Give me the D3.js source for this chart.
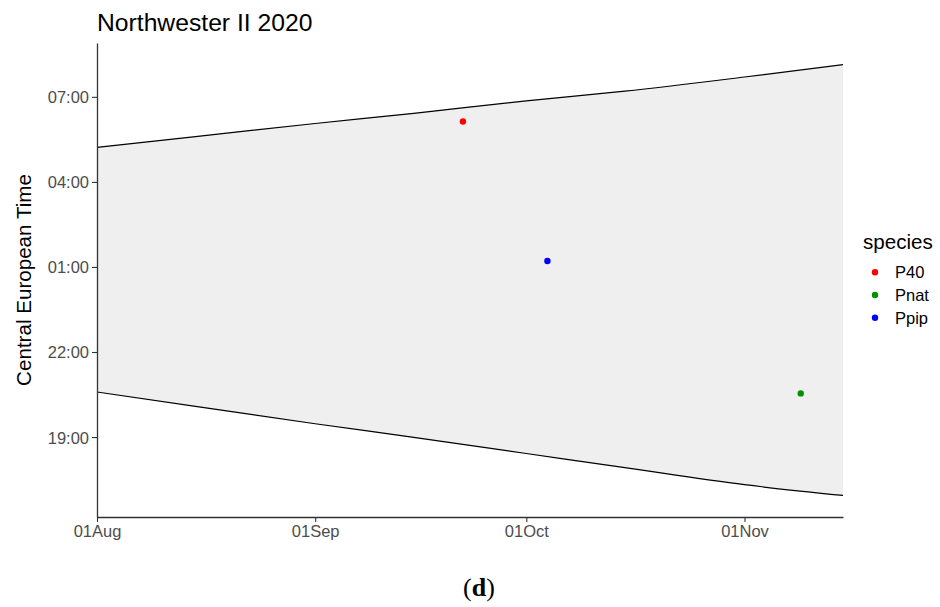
<!doctype html>
<html>
<meta charset="utf-8">
<style>
  body { margin: 0; background: #fff; }
  text { font-family: "Liberation Sans", Arial, sans-serif; }
</style>
<head>
  <script src="https://cdn.jsdelivr.net/npm/d3@7"></script>
</head>
<body>
<script>

  // dates of the night band (2020) and the band edges in hours (24 = midnight)
  var bandDates = ["2020-08-01", "2020-08-15", "2020-09-01", "2020-09-15", "2020-10-01", "2020-10-15", "2020-11-01", "2020-11-15"];
  var morningHours = [29.22, 29.60, 30.06, 30.42, 30.86, 31.20, 31.70, 32.14];
  var eveningHours = [20.59, 20.08, 19.47, 18.99, 18.42, 17.92, 17.32, 16.94];

  // observations
  var obsSpecies = ["P40", "Ppip", "Pnat"];
  var obsDates = ["2020-09-22", "2020-10-04", "2020-11-09"];
  var obsHours = [30.13, 25.21, 20.54];

  var speciesNames = ["P40", "Pnat", "Ppip"];
  var speciesColors = ["#ff0000", "#009000", "#0000ff"];

  var xTicks = ["2020-08-01", "2020-09-01", "2020-10-01", "2020-11-01"];
  var yTicks = [19, 22, 25, 28, 31];

  var width = 940,
      height = 607;

  var parse = d3.timeParse("%Y-%m-%d");

  var band = bandDates.map(function(d, i) {
    return {date: parse(d), hi: morningHours[i], lo: eveningHours[i]};
  });
  var obs = obsDates.map(function(d, i) {
    return {date: parse(d), h: obsHours[i], sp: obsSpecies[i]};
  });

  var svg = d3.select("body").append("svg")
    .attr("width", width)
    .attr("height", height);

  var pLeft = 97, pRight = 843, pTop = 43, pBottom = 517;

  var x = d3.scaleTime()
    .domain(d3.extent(band, function(d) { return d.date; }))
    .range([pLeft, pRight]);

  var yMin = d3.min(band, function(d) { return d.lo; }),
      yMax = d3.max(band, function(d) { return d.hi; }),
      pad = (yMax - yMin) * 0.05;

  var y = d3.scaleLinear()
    .domain([yMin - pad, yMax + pad])
    .range([pBottom, pTop]);

  var color = d3.scaleOrdinal()
    .domain(speciesNames)
    .range(speciesColors);

  // night band
  svg.append("path")
    .datum(band)
    .attr("fill", "#efefef")
    .attr("d", d3.area()
      .curve(d3.curveMonotoneX)
      .x(function(d) { return x(d.date); })
      .y0(function(d) { return y(d.lo); })
      .y1(function(d) { return y(d.hi); }));

  ["hi", "lo"].forEach(function(k) {
    svg.append("path")
      .datum(band)
      .attr("fill", "none")
      .attr("stroke", "#000")
      .attr("stroke-width", 1.2)
      .attr("d", d3.line()
        .curve(d3.curveMonotoneX)
        .x(function(d) { return x(d.date); })
        .y(function(d) { return y(d[k]); }));
  });

  // points
  svg.selectAll("circle.obs")
    .data(obs)
    .enter().append("circle")
    .attr("class", "obs")
    .attr("cx", function(d) { return x(d.date); })
    .attr("cy", function(d) { return y(d.h); })
    .attr("r", 3.2)
    .attr("fill", function(d) { return color(d.sp); });

  // axes
  var xAxis = svg.append("g")
    .attr("transform", "translate(0," + pBottom + ")")
    .call(d3.axisBottom(x)
      .tickValues(xTicks.map(parse))
      .tickFormat(d3.timeFormat("%d%b"))
      .tickSize(5)
      .tickSizeOuter(0)
      .tickPadding(3));

  var yAxis = svg.append("g")
    .attr("transform", "translate(" + pLeft + ",0)")
    .call(d3.axisLeft(y)
      .tickValues(yTicks)
      .tickFormat(function(d) { return d3.format("02d")(d % 24) + ":00"; })
      .tickSize(5)
      .tickSizeOuter(0)
      .tickPadding(3));

  [xAxis, yAxis].forEach(function(g) {
    g.select(".domain").attr("stroke", "#333").attr("stroke-width", 1.3);
    g.selectAll(".tick line").attr("stroke", "#333").attr("stroke-width", 1.1);
    g.selectAll(".tick text")
      .attr("fill", "#4d4d4d")
      .style("font-size", "16.5px")
      .style("font-family", "Liberation Sans, Arial, sans-serif");
  });
  yAxis.selectAll(".tick text").attr("dy", "0.36em");

  // title & labels
  svg.append("text")
    .attr("x", pLeft)
    .attr("y", 31)
    .style("font-size", "24.7px")
    .text("Northwester II 2020");

  svg.append("text")
    .attr("transform", "translate(31," + ((pTop + pBottom) / 2) + ") rotate(-90)")
    .attr("text-anchor", "middle")
    .style("font-size", "20.6px")
    .text("Central European Time");

  // legend
  svg.append("text")
    .attr("x", 863)
    .attr("y", 249)
    .style("font-size", "20.6px")
    .text("species");

  var legend = svg.selectAll("g.legend")
    .data(speciesNames)
    .enter().append("g")
    .attr("class", "legend")
    .attr("transform", function(d, i) { return "translate(875," + (272.3 + i * 22.7) + ")"; });

  legend.append("circle")
    .attr("r", 3.2)
    .attr("fill", function(d) { return color(d); });

  legend.append("text")
    .attr("x", 20)
    .attr("dy", "0.36em")
    .style("font-size", "16.5px")
    .text(function(d) { return d; });

  // panel caption
  var cap = svg.append("text")
    .attr("x", 479)
    .attr("y", 596)
    .attr("text-anchor", "middle")
    .style("font-family", "Liberation Serif, serif")
    .style("font-size", "26px");
  cap.append("tspan").text("(");
  cap.append("tspan").attr("font-weight", "bold").text("d");
  cap.append("tspan").text(")");

</script>
</body>
</html>
